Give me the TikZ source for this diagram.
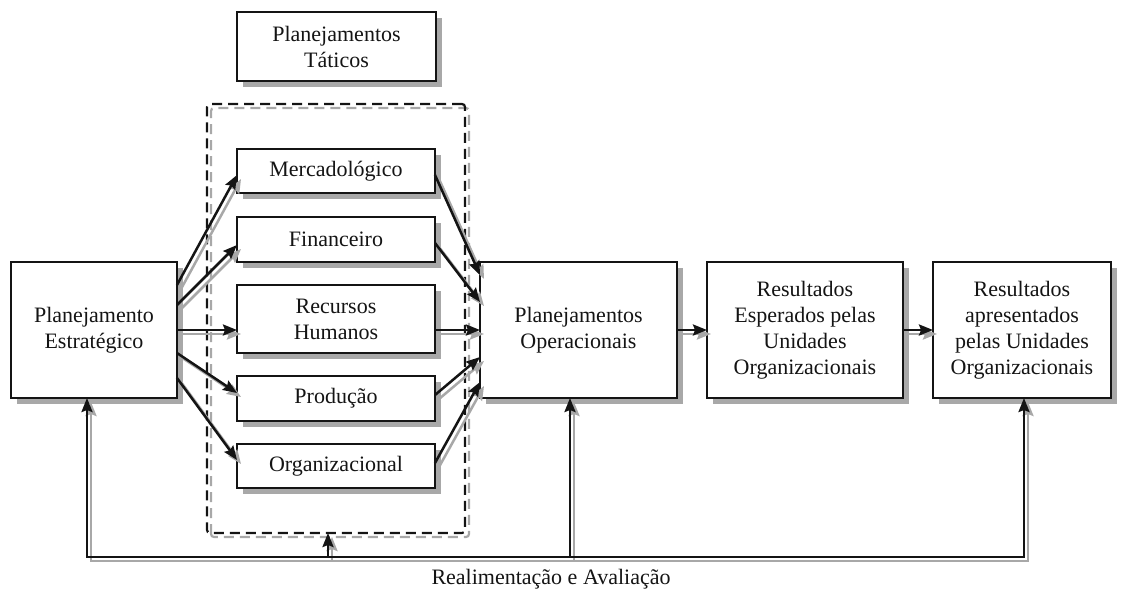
\documentclass[tikz,border=0pt]{standalone}
\usepackage{fontspec}
\setmainfont{Liberation Serif}
\usetikzlibrary{arrows.meta,backgrounds}
\definecolor{shadowgray}{gray}{0.66}
\definecolor{ink}{gray}{0.08}

% grey shadow strip along the lower and right sides of a box
\newcommand\shadowof[1]{%
  \draw[boxshadow] ([shift={(6pt,-3.9pt)}]#1.south west)
                -- ([shift={(3.9pt,-3.9pt)}]#1.south east)
                -- ([shift={(3.9pt,-6pt)}]#1.north east);}

% every connector of the chart, drawn once as a grey shadow and once in black
\newcommand\drawlinks{%
  % strategic plan feeds each tactical plan
  \draw[link] ([yshift=45pt]est.east)  -- ([yshift=-4pt]merc.west);
  \draw[link] ([yshift=25pt]est.east)  -- ([yshift=-5.5pt]fin.west);
  \draw[link] (est.east)               -- ([yshift=-11pt]rh.west);
  \draw[link] ([yshift=-23pt]est.east) -- ([yshift=5.5pt]prod.west);
  \draw[link] ([yshift=-48pt]est.east) -- ([yshift=6pt]org.west);
  % tactical plans feed the operational plans
  \draw[link] ([yshift=-4pt]merc.east)   -- ([yshift=55pt]op.west);
  \draw[link] ([yshift=-3.5pt]fin.east)  -- ([yshift=28pt]op.west);
  \draw[link] ([yshift=-11pt]rh.east)    -- (op.west);
  \draw[link] ([yshift=3.5pt]prod.east)  -- ([yshift=-27pt]op.west);
  \draw[link] ([yshift=3pt]org.east)     -- ([yshift=-52pt]op.west);
  % results chain
  \draw[link] (op.east)   -- (res1.west);
  \draw[link] (res1.east) -- (res2.west);
  % feedback loop
  \draw[link,<->] (est.south -| fbL) -- (fbL) -- (fbR) -- (res2.south -| fbR);
  \draw[link] (fbT) -- (frame.south -| fbT);
  \draw[link] (fbO) -- (op.south -| fbO);
}

\begin{document}
\begin{tikzpicture}[x=1pt,y=-1pt,
  font=\fontsize{22}{26}\selectfont,
  text=ink,
  >={Stealth[length=14pt,width=11pt,inset=2pt]},
  box/.style={draw=ink, line width=2.8pt, fill=white, align=center,
    inner sep=0pt, outer sep=0pt},
  tact/.style={box, minimum width=198pt},
  frm/.style={line width=2.2pt, dash pattern=on 10pt off 6pt, rounded corners=3pt},
  boxshadow/.style={draw=shadowgray, line width=5pt, line join=miter},
  link/.style={line width=2.5pt, ->}]

\useasboundingbox (0,0) rectangle (1126,592);

% dashed frame round the tactical plans
\node[draw=ink, frm, minimum width=258pt, minimum height=429pt,
      inner sep=0pt, outer sep=0pt] (frame) at (336,318.5) {};

% boxes
\node[box, minimum width=166pt, minimum height=136pt] (est) at (94,330)
  {Planejamento\\Estratégico};
\node[box, minimum width=199pt, minimum height=69pt] (tat) at (336.5,46.5)
  {Planejamentos\\Táticos};
\node[tact, minimum height=44pt] (merc) at (336,171)   {Mercadológico};
\node[tact, minimum height=45pt] (fin)  at (336,239.5) {Financeiro};
\node[tact, minimum height=68pt] (rh)   at (336,319)   {Recursos\\Humanos};
\node[tact, minimum height=45pt] (prod) at (336,398.5) {Produção};
\node[tact, minimum height=44pt] (org)  at (336,466)   {Organizacional};
\node[box, minimum width=197pt, minimum height=136pt] (op) at (578.5,330)
  {Planejamentos\\Operacionais};
\node[box, minimum width=196pt, minimum height=136pt] (res1) at (805,330)
  {Resultados\\Esperados pelas\\Unidades\\Organizacionais};
\node[box, minimum width=178pt, minimum height=136pt] (res2) at (1022,330)
  {Resultados\\apresentados\\pelas Unidades\\Organizacionais};

% box shadows
\shadowof{est}  \shadowof{tat}
\shadowof{merc} \shadowof{fin} \shadowof{rh} \shadowof{prod} \shadowof{org}
\shadowof{op}   \shadowof{res1} \shadowof{res2}

% grey dashed copy of the frame, just below and to the right of it
\begin{pgfonlayer}{background}
  \draw[frm, draw=shadowgray] ([shift={(4pt,-4pt)}]frame.south west)
                    rectangle ([shift={(4pt,-4pt)}]frame.north east);
\end{pgfonlayer}

% corners of the feedback loop
\coordinate (fbL) at (87,557);
\coordinate (fbT) at (328,557);
\coordinate (fbO) at (570,557);
\coordinate (fbR) at (1024,557);

\node (lbl) at (551,579) {Realimentação e Avaliação};

% connectors: grey shadow first, then black
\begin{scope}[transform canvas={shift={(4pt,-4pt)}}, color=shadowgray]
  \drawlinks
\end{scope}
\begin{scope}[color=ink]
  \drawlinks
\end{scope}
\end{tikzpicture}
\end{document}
